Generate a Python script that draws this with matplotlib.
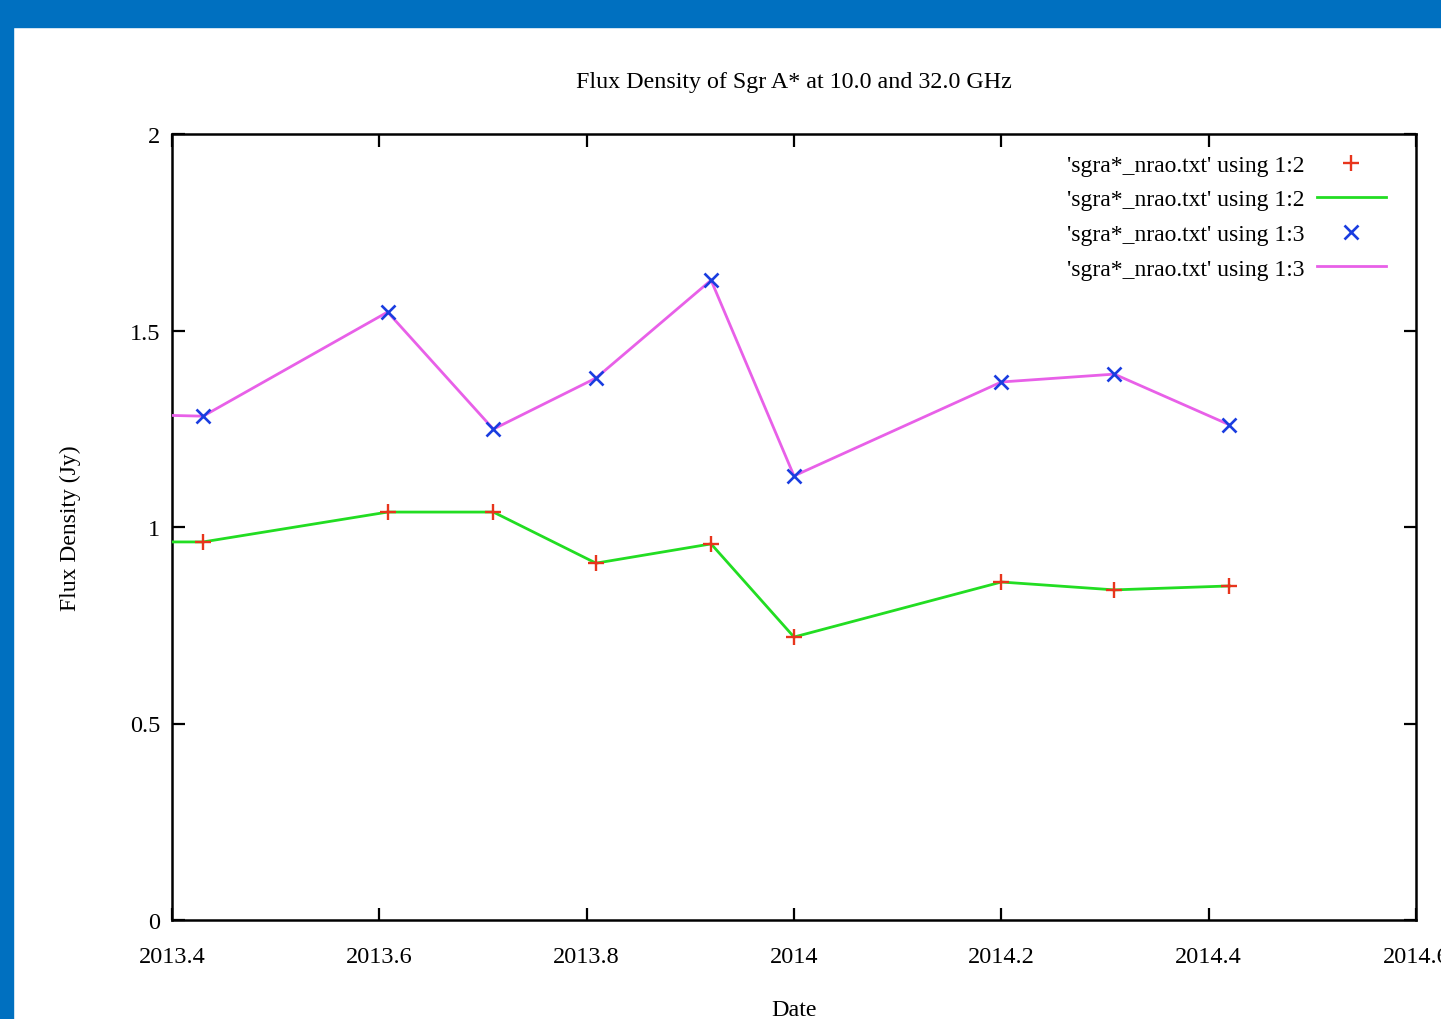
import matplotlib
matplotlib.use("Agg")
import matplotlib.pyplot as plt
from matplotlib.patches import Rectangle

# data (first point sits left of the visible range)
date = [2013.30, 2013.430, 2013.608, 2013.710, 2013.809, 2013.920,
        2014.000, 2014.200, 2014.309, 2014.420]
flux_10 = [0.962, 0.962, 1.038, 1.038, 0.908, 0.957, 0.720, 0.860, 0.840, 0.850]
flux_32 = [1.290, 1.282, 1.547, 1.249, 1.379, 1.628, 1.130, 1.369, 1.389, 1.260]

xticks = [2013.4, 2013.6, 2013.8, 2014.0, 2014.2, 2014.4, 2014.6]
xticklabels = ["2013.4", "2013.6", "2013.8", "2014", "2014.2", "2014.4", "2014.6"]
yticks = [0, 0.5, 1, 1.5, 2]
yticklabels = ["0", "0.5", "1", "1.5", "2"]

lab2 = "'sgra*_nrao.txt' using 1:2"
lab3 = "'sgra*_nrao.txt' using 1:3"

plt.rcParams['font.family'] = ['Liberation Serif', 'DejaVu Serif']

fig = plt.figure(figsize=(14.41, 10.20), dpi=100)
W, H = 1441, 1020
# blue frame around the slide
fig.patches.append(Rectangle((0, 1 - 28 / H), 1, 28 / H, transform=fig.transFigure,
                             color="#0070c0", zorder=0))
fig.patches.append(Rectangle((0, 0), 13 / W, 1, transform=fig.transFigure,
                             color="#0070c0", zorder=0))

ax = fig.add_axes([172 / W, 99 / H, (1416 - 172) / W, (921 - 135) / H])

ax.plot(date, flux_10, "+", color="#e8351c", ms=11, mew=1.7, label=lab2, zorder=4)
ax.plot(date, flux_10, "-", color="#22dd22", lw=2, label=lab2, zorder=3)
ax.plot(date, flux_32, "x", color="#1a3de0", ms=9.5, mew=1.9, label=lab3, zorder=4)
ax.plot(date, flux_32, "-", color="#e860e8", lw=2, label=lab3, zorder=3)

ax.set_xlim(2013.4, 2014.6)
ax.set_ylim(0, 2)
ax.set_xticks(xticks)
ax.set_xticklabels(xticklabels)
ax.set_yticks(yticks)
ax.set_yticklabels(yticklabels)
ax.tick_params(direction="in", length=9, width=1.6, top=True, right=True,
               labelsize=17.5)
ax.tick_params(axis="x", pad=19)
ax.tick_params(axis="y", pad=8.5)
for s in ax.spines.values():
    s.set_linewidth(1.8)
for t in ax.get_xticklabels():
    t.set_clip_on(False)

ax.set_title("Flux Density of Sgr A* at 10.0 and 32.0 GHz", fontsize=17.3, pad=34)
ax.set_xlabel("Date", fontsize=17.3, labelpad=23)
ax.set_ylabel("Flux Density (Jy)", fontsize=17, labelpad=35)

ax.legend(loc="upper right", bbox_to_anchor=(1395 / W, 1 - 146 / H),
          bbox_transform=fig.transFigure, frameon=False, markerfirst=False,
          fontsize=17, handlelength=2.9, labelspacing=0.55, handletextpad=0.55,
          borderaxespad=0)

fig.savefig("out.png", dpi=100)
